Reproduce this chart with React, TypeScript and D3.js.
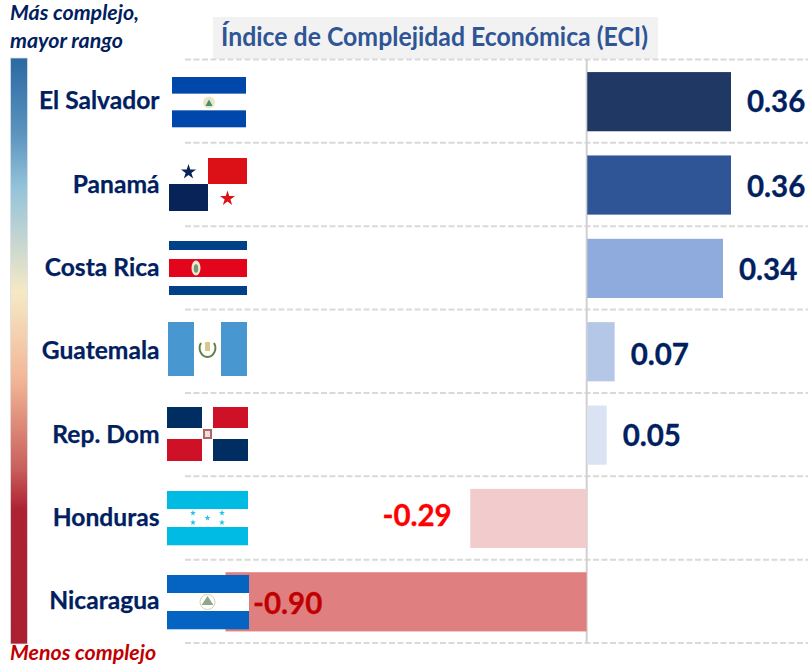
import React from 'react';
import * as d3 from 'd3';

const categories = ['El Salvador', 'Panamá', 'Costa Rica', 'Guatemala', 'Rep. Dom', 'Honduras', 'Nicaragua'];
const values = [0.36, 0.36, 0.34, 0.07, 0.05, -0.29, -0.90];
const barColors = ['#1f3864', '#2f5597', '#8faadc', '#b4c7e7', '#dae3f3', '#f2cccc', '#e07f7f'];
const labelColors = ['#002060', '#002060', '#002060', '#002060', '#002060', '#ff0000', '#c00000'];
const title = 'Índice de Complejidad Económica (ECI)';
const labelNudge = [0, 2, 2, 3, 1, -2.5, 2];

const W = 808, H = 666;
const FONT = 'Lato, Carlito, Calibri, sans-serif';
const x = d3.scaleLinear().domain([-0.9, 0.36]).range([225.5, 731]);
const y = d3.scaleBand<string>().domain(categories).range([60, 643.5]).paddingInner(0.29).paddingOuter(0.145);
const rowLines = d3.range(categories.length + 1).map((i) => 59.5 + (i * (643 - 59.5)) / categories.length);
const star = (r: number) => d3.symbol().type(d3.symbolStar).size(r)() as string;
const fmt = (v: number) => d3.format('.2f')(v).replace('−', '-');

function Stripes({ x0, y0, w, h, colors }: { x0: number; y0: number; w: number; h: number; colors: string[] }) {
  return <g>{colors.map((c, i) => <rect key={i} x={x0} y={y0 + (i * h) / colors.length} width={w} height={h / colors.length + 0.3} fill={c} />)}</g>;
}

function Flags() {
  return (
    <g>
      {/* El Salvador */}
      <Stripes x0={172} y0={77} w={74} h={50} colors={['#0047ab', '#ffffff', '#0047ab']} />
      <circle cx={209} cy={102.5} r={6} fill="#f3e7b5" />
      <circle cx={209} cy={102.5} r={4} fill="#dfe8e0" />
      <path d="M205.5 106 L209 99.5 L212.5 106 Z" fill="#3f8f70" />
      {/* Panamá */}
      <rect x={208} y={158} width={39} height={26} fill="#dc1118" />
      <rect x={169} y={184} width={39} height={27} fill="#072357" />
      <path d={star(70)} transform="translate(188.5,172)" fill="#072357" />
      <path d={star(70)} transform="translate(227.5,198.5)" fill="#dc1118" />
      {/* Costa Rica */}
      <rect x={169} y={241} width={78} height={9} fill="#004187" />
      <rect x={169} y={259} width={78} height={18} fill="#e3051b" />
      <rect x={169} y={286} width={78} height={9} fill="#004187" />
      <ellipse cx={196} cy={268} rx={4.5} ry={7.5} fill="#f1e6d0" />
      <ellipse cx={196} cy={268.5} rx={2.2} ry={4.2} fill="#6f9a78" />
      {/* Guatemala */}
      <rect x={168} y={322} width={26} height={54} fill="#4997d0" />
      <rect x={221} y={322} width={26} height={54} fill="#4997d0" />
      <path d="M201 343 A8 9 0 0 0 207.5 357 A8 9 0 0 0 214 343" fill="none" stroke="#5f8048" strokeWidth={2} />
      <rect x={205} y={342} width={5} height={9} fill="#d8c98a" />
      {/* Rep. Dom */}
      <rect x={167} y={407} width={35} height={21} fill="#002d62" />
      <rect x={213} y={407} width={35} height={21} fill="#ce1126" />
      <rect x={167} y={439} width={35} height={22} fill="#ce1126" />
      <rect x={213} y={439} width={35} height={22} fill="#002d62" />
      <rect x={203} y={429} width={9} height={10} fill="#a34a50" opacity={0.85} />
      <rect x={205} y={431} width={5} height={6} fill="#e7e2d8" />
      {/* Honduras */}
      <Stripes x0={167} y0={491} w={81} h={54} colors={['#00bce4', '#ffffff', '#00bce4']} />
      {[[193, 513], [193, 522.5], [207.5, 518], [222, 513], [222, 522.5]].map(([a, b], i) => (
        <path key={i} d={star(11)} transform={`translate(${a},${b})`} fill="#20c0e8" />
      ))}
    </g>
  );
}

function NicaraguaFlag() {
  return (
    <g>
      <Stripes x0={167} y0={575} w={82} h={54} colors={['#0563c1', '#ffffff', '#0563c1']} />
      <path d="M201.5 605 L207.5 596 L213.5 605 Z" fill="#8fa88c" />
      <circle cx={207.5} cy={602} r={7.5} fill="none" stroke="#d8d2a8" strokeWidth={1} />
    </g>
  );
}

export default function App() {
  return (
    <svg width={W} height={H} viewBox={`0 0 ${W} ${H}`} style={{ position: 'absolute', left: 0, top: 0, background: '#fff' }} fontFamily={FONT}>
      <defs>
        <linearGradient id="scale" x1="0" x2="0" y1="0" y2="1">
          <stop offset="0" stopColor="#2a69a3" />
          <stop offset="0.13" stopColor="#5c94bf" />
          <stop offset="0.22" stopColor="#93c3da" />
          <stop offset="0.29" stopColor="#b9d1d3" />
          <stop offset="0.40" stopColor="#f6e9c5" />
          <stop offset="0.55" stopColor="#f2b596" />
          <stop offset="0.70" stopColor="#c9605c" />
          <stop offset="0.77" stopColor="#ae2333" />
          <stop offset="1" stopColor="#ab2030" />
        </linearGradient>
      </defs>

      <rect x={213} y={17} width={445} height={42} fill="#f2f2f2" />
      <text x={221} y={46} fontSize={26} fontWeight={700} fill="#2f5597" textLength={427} lengthAdjust="spacingAndGlyphs">{title}</text>

      <text x={10} y={20} fontSize={21.4} fontWeight={700} fontStyle="italic" fill="#002060">Más complejo,</text>
      <text x={10} y={47.5} fontSize={21.4} fontWeight={700} fontStyle="italic" fill="#002060">mayor rango</text>
      <text x={10} y={660} fontSize={21.4} fontWeight={700} fontStyle="italic" fill="#c00000">Menos complejo</text>
      <rect x={10.5} y={58} width={17} height={586} fill="url(#scale)" stroke="#d8dfe6" strokeWidth={0.8} />

      {rowLines.map((ly, i) => (
        <line key={i} x1={185} x2={808} y1={ly} y2={ly} stroke="#d9d9d9" strokeWidth={2} strokeDasharray="6 2.5" />
      ))}
      <line x1={586.7} x2={586.7} y1={59} y2={642} stroke="#d0d0d0" strokeWidth={2} />

      <Flags />

      {categories.map((c, i) => {
        const v = values[i];
        const by = y(c)!, bh = y.bandwidth();
        const cy = by + bh / 2;
        return (
          <g key={c}>
            <rect x={v >= 0 ? x(0) + 0.7 : x(v)} y={by} width={Math.abs(x(v) - x(0)) - (v >= 0 ? 0.7 : 0)} height={bh} fill={barColors[i]} />
            <text x={159.5} y={cy + 7.5} textAnchor="end" fontSize={24.6} fontWeight={700} fill="#002060" stroke="#002060" strokeWidth={0.25}>{c}</text>
          </g>
        );
      })}

      <NicaraguaFlag />

      {categories.map((c, i) => {
        const v = values[i];
        const cy = y(c)! + y.bandwidth() / 2 + labelNudge[i];
        const lx = v >= 0 ? x(v) + 16 : v < -0.5 ? x(v) + 27.5 : x(v) - 18.5;
        return (
          <text key={c} x={lx} y={cy + 10} textAnchor={v < -0.5 ? 'start' : v < 0 ? 'end' : 'start'} fontSize={29.5} fontWeight={700} fill={labelColors[i]} stroke={labelColors[i]} strokeWidth={0.3}>
            {fmt(v)}
          </text>
        );
      })}
    </svg>
  );
}
